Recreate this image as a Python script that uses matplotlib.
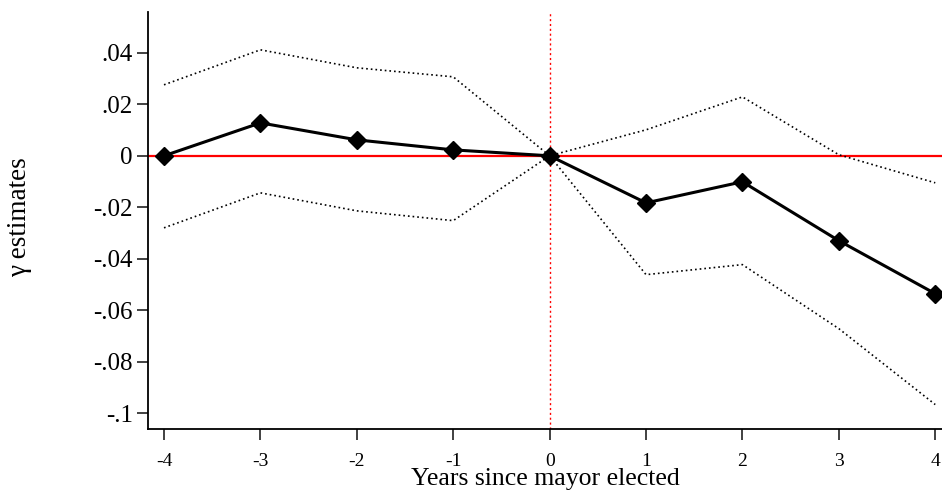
import numpy as np
import matplotlib.pyplot as plt

plt.rcParams['font.family'] = ['Liberation Serif', 'DejaVu Serif']

years = [-4, -3, -2, -1, 0, 1, 2, 3, 4]
gamma = [0.0, 0.0128, 0.0062, 0.0023, 0.0, -0.0183, -0.0101, -0.0330, -0.0536]
ci_upper = [0.0276, 0.0412, 0.0342, 0.0307, 0.0, 0.0101, 0.0229, 0.0004, -0.0105]
ci_lower = [-0.0280, -0.0144, -0.0214, -0.0252, 0.0, -0.0462, -0.0423, -0.0672, -0.0967]
yticks = [0.04, 0.02, 0, -0.02, -0.04, -0.06, -0.08, -0.1]
ytick_labels = ['.04', '.02', '0', '-.02', '-.04', '-.06', '-.08', '-.1']

fig = plt.figure(figsize=(9.42, 4.93), dpi=100)
ax = fig.add_axes([148 / 942, 1 - 429 / 493, (942 - 148) / 942, (429 - 12) / 493])

ax.axhline(0, color='red', lw=1.6, zorder=1)
ax.axvline(0, color='red', lw=1.0, ls=(0, (1.5, 2)), zorder=1)
ax.plot(years, ci_upper, color='black', lw=1.2, ls=(0, (1, 1.8)), zorder=2)
ax.plot(years, ci_lower, color='black', lw=1.2, ls=(0, (1, 1.8)), zorder=2)
ax.plot(years, gamma, color='black', lw=2.2, marker='D', markersize=9, zorder=3)

ax.set_xlim(-4.166, 4.07)
ax.set_ylim(-0.1062, 0.0559)
ax.set_xticks(years)
ax.set_xticklabels([str(y) for y in years], fontsize=14)
ax.set_yticks(yticks)
ax.set_yticklabels(ytick_labels, fontsize=18)
ax.tick_params(axis='both', direction='out', length=8, width=1.3, color='#333333')
ax.tick_params(axis='x', pad=9)
ax.tick_params(axis='y', pad=3)

for side in ['top', 'right']:
    ax.spines[side].set_visible(False)
for side in ['left', 'bottom']:
    ax.spines[side].set_linewidth(1.3)

ax.set_xlabel('Years since mayor elected', fontsize=18.5, labelpad=-1)
fig.text(20 / 942, 1 - 217 / 493, 'γ estimates', rotation=90, fontsize=19.5,
         ha='center', va='center')

fig.savefig('out.png', dpi=100)
